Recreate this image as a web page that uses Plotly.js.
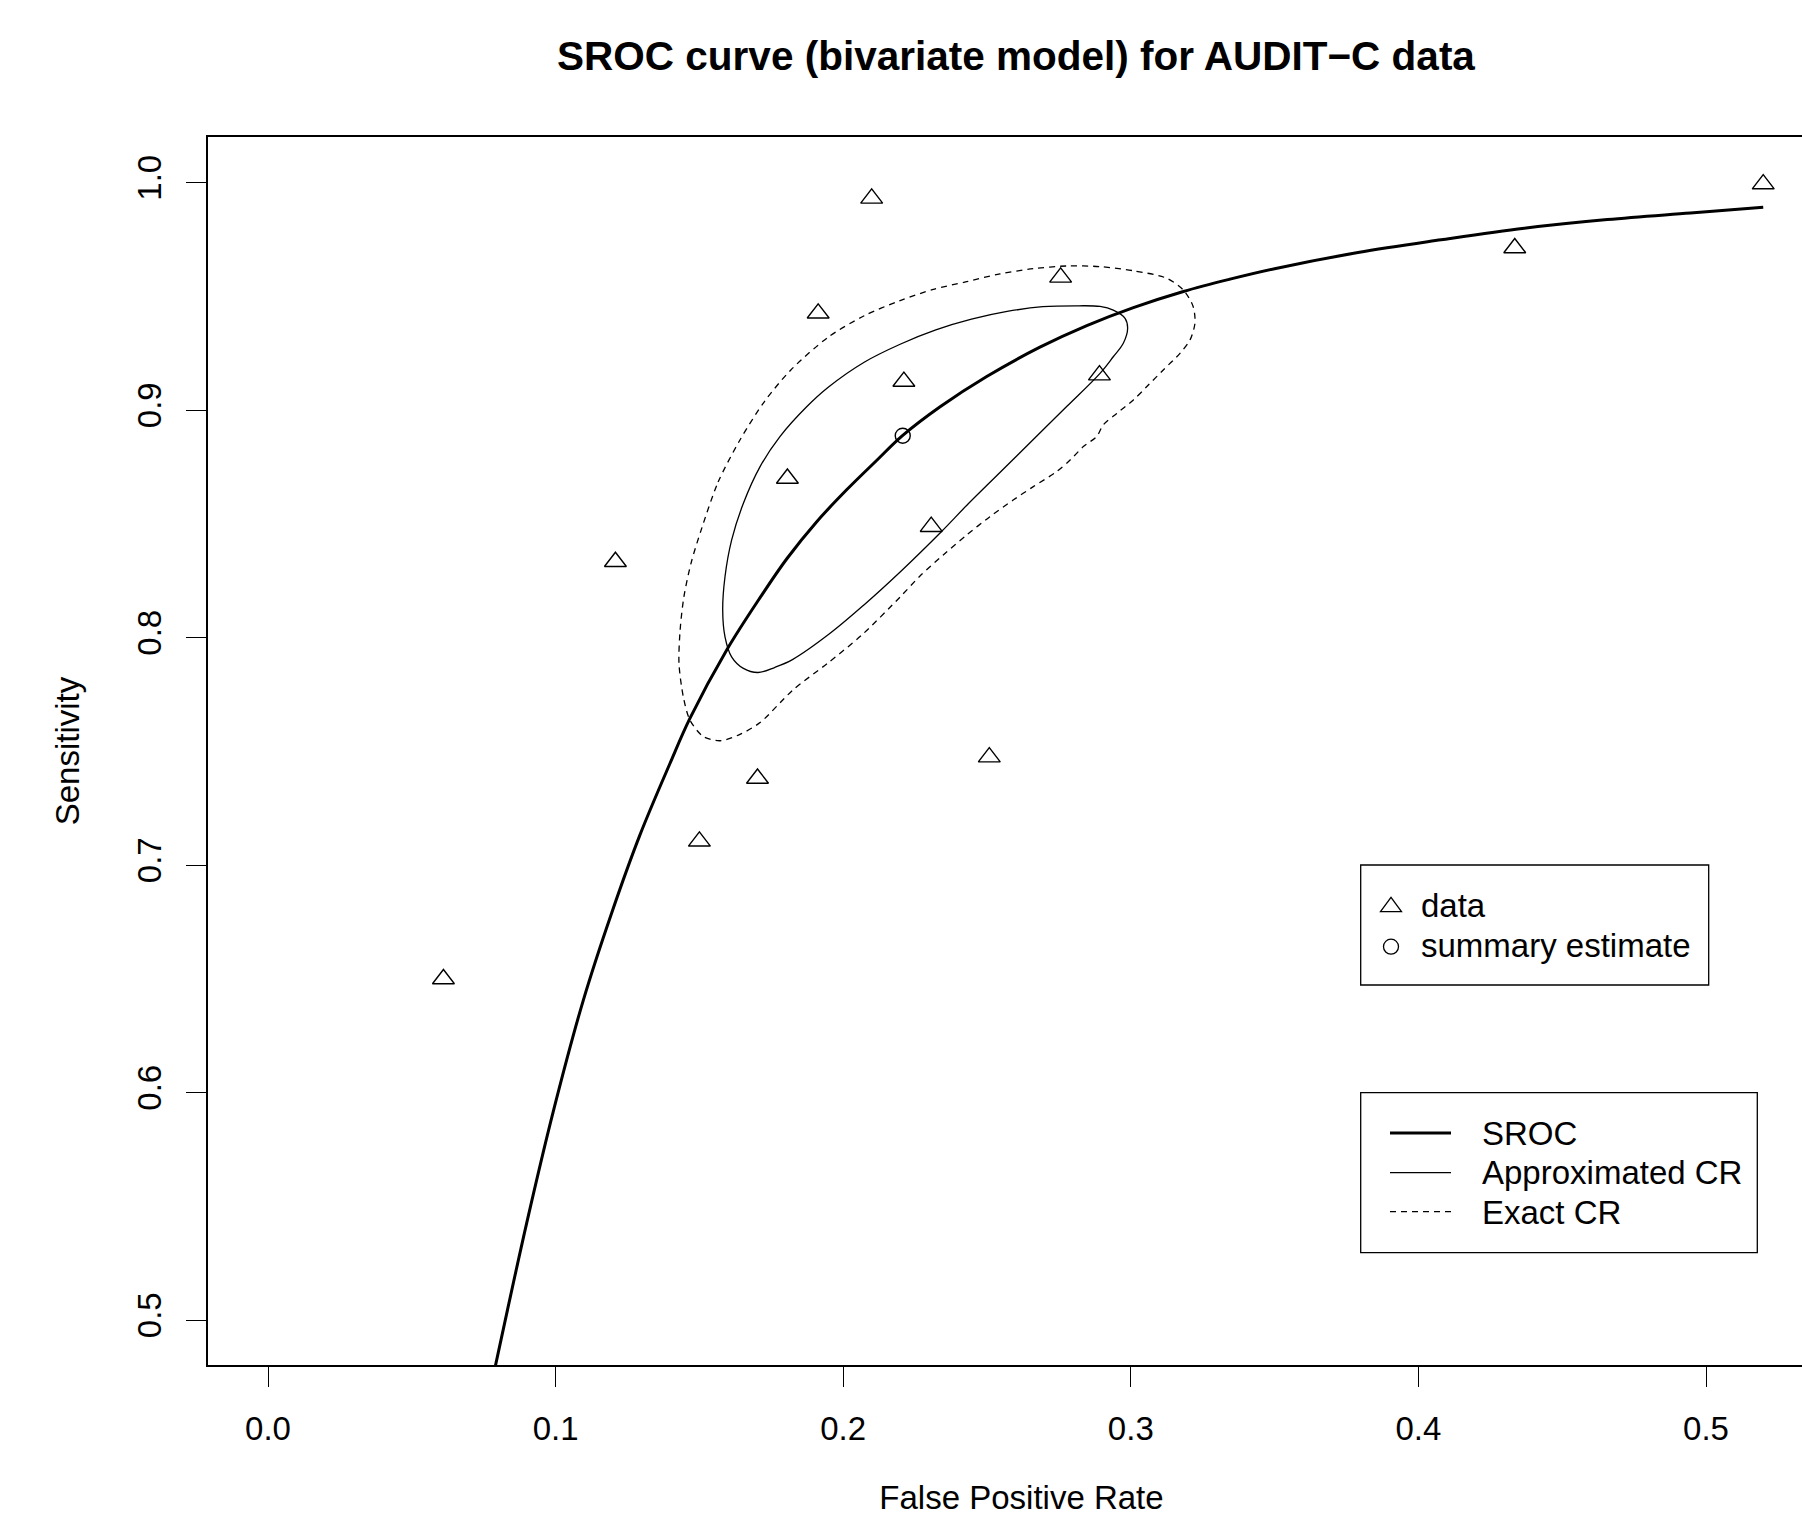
<!DOCTYPE html>
<html>
<head>
<meta charset="utf-8">
<script src="https://cdn.plot.ly/plotly-3.0.1.min.js"></script>
<style>
  html, body { margin: 0; padding: 0; background: #ffffff; }
  #wrap { width: 1802px; height: 1517px; overflow: hidden; position: relative; }
  #chart { width: 1850px; height: 1540px; }
</style>
</head>
<body>
<div id="wrap"><div id="chart"></div></div>
<script>
// ---------------- data ----------------
const xTicks = [0, 0.1, 0.2, 0.3, 0.4, 0.5];
const xTickLabels = ['0.0', '0.1', '0.2', '0.3', '0.4', '0.5'];
const yTicks = [0.5, 0.6, 0.7, 0.8, 0.9, 1.0];
const yTickLabels = ['0.5', '0.6', '0.7', '0.8', '0.9', '1.0'];

// individual studies (false positive rate, sensitivity)
const studyFpr  = [0.0610, 0.1208, 0.1500, 0.1702, 0.1806, 0.1913, 0.2099, 0.2211, 0.2306, 0.2508, 0.2756, 0.2891, 0.4335, 0.5199];
const studySens = [0.6500, 0.8334, 0.7105, 0.7381, 0.8700, 0.9426, 0.9931, 0.9126, 0.8488, 0.7475, 0.9584, 0.9154, 0.9713, 0.9994];

// summary estimate
const summaryFpr  = [0.2207];
const summarySens = [0.8888];

// SROC curve
const srocFpr  = [0.0790, 0.0900, 0.0992, 0.1096, 0.1195, 0.1293, 0.1398, 0.1467, 0.1595, 0.1711, 0.1804, 0.1908, 0.2012, 0.2117, 0.2206, 0.2337, 0.2499, 0.2684, 0.2847, 0.3009, 0.3183, 0.3345, 0.3500, 0.3790, 0.4079, 0.4368, 0.4657, 0.4946, 0.5199];
const srocSens = [0.4795, 0.5430, 0.5918, 0.6405, 0.6790, 0.7132, 0.7448, 0.7645, 0.7946, 0.8176, 0.8347, 0.8510, 0.8650, 0.8780, 0.8888, 0.9015, 0.9148, 0.9277, 0.9372, 0.9451, 0.9522, 0.9576, 0.9622, 0.9693, 0.9749, 0.9800, 0.9838, 0.9867, 0.9892];

// approximated confidence region
const approxFpr  = [0.2818, 0.2893, 0.2939, 0.2980, 0.2989, 0.2974, 0.2939, 0.2893, 0.2777, 0.2661, 0.2545, 0.2429, 0.2342, 0.2198, 0.2072, 0.1951, 0.1825, 0.1763, 0.1704, 0.1653, 0.1612, 0.1589, 0.1581, 0.1589, 0.1612, 0.1653, 0.1711, 0.1780, 0.1873, 0.1949, 0.2073, 0.2198, 0.2322, 0.2446, 0.2570, 0.2694, 0.2818];
const approxSens = [0.9459, 0.9456, 0.9440, 0.9404, 0.9360, 0.9294, 0.9235, 0.9162, 0.9016, 0.8871, 0.8726, 0.8581, 0.8467, 0.8289, 0.8144, 0.8016, 0.7905, 0.7870, 0.7847, 0.7865, 0.7916, 0.8004, 0.8122, 0.8268, 0.8429, 0.8591, 0.8752, 0.8884, 0.9015, 0.9102, 0.9211, 0.9290, 0.9353, 0.9400, 0.9434, 0.9455, 0.9459];

// exact confidence region
const exactFpr  = [0.1506, 0.1565, 0.1641, 0.1725, 0.1818, 0.1949, 0.2073, 0.2198, 0.2313, 0.2429, 0.2545, 0.2661, 0.2777, 0.2893, 0.3009, 0.3125, 0.3183, 0.3217, 0.3223, 0.3206, 0.3171, 0.3113, 0.3055, 0.3009, 0.2951, 0.2904, 0.2881, 0.2835, 0.2789, 0.2742, 0.2661, 0.2591, 0.2510, 0.2429, 0.2348, 0.2267, 0.2198, 0.2065, 0.1947, 0.1825, 0.1711, 0.1641, 0.1572, 0.1514, 0.1467, 0.1444, 0.1429, 0.1433, 0.1446, 0.1471, 0.1506];
const exactSens = [0.8473, 0.8684, 0.8869, 0.9036, 0.9177, 0.9322, 0.9415, 0.9482, 0.9531, 0.9565, 0.9599, 0.9622, 0.9634, 0.9631, 0.9613, 0.9580, 0.9528, 0.9455, 0.9382, 0.9309, 0.9250, 0.9177, 0.9103, 0.9045, 0.8986, 0.8935, 0.8884, 0.8840, 0.8781, 0.8730, 0.8664, 0.8605, 0.8532, 0.8451, 0.8364, 0.8271, 0.8179, 0.8012, 0.7889, 0.7770, 0.7627, 0.7575, 0.7547, 0.7565, 0.7638, 0.7741, 0.7887, 0.8034, 0.8179, 0.8328, 0.8473];

const legendLabels1 = ['data', 'summary estimate'];
const legendLabels2 = ['SROC', 'Approximated CR', 'Exact CR'];
const titleText = 'SROC curve (bivariate model) for AUDIT\u2212C data';
const xTitle = 'False Positive Rate';
const yTitle = 'Sensitivity';

// ---------------- layout helpers ----------------
const FONT = 'Liberation Sans, Arial, Helvetica, sans-serif';
const W = 1850, H = 1540;          // figure is larger than the 1802x1517 view; wrapper clips it
const PL = 208, PR = 1835, PT = 137, PB = 1365;
const fx = px => (px - PL) / (PR - PL);
const fy = py => (PB - py) / (PB - PT);

const traces = [
  { x: srocFpr, y: srocSens, type: 'scatter', mode: 'lines', name: legendLabels2[0],
    line: { color: '#000', width: 3, shape: 'spline', smoothing: 1 }, cliponaxis: true },
  { x: approxFpr, y: approxSens, type: 'scatter', mode: 'lines', name: legendLabels2[1],
    line: { color: '#000', width: 1.3, shape: 'spline', smoothing: 1 } },
  { x: exactFpr, y: exactSens, type: 'scatter', mode: 'lines', name: legendLabels2[2],
    line: { color: '#000', width: 1.3, dash: '6px,5px', shape: 'spline', smoothing: 0.8 } },
  { x: studyFpr, y: studySens, type: 'scatter', mode: 'markers', name: legendLabels1[0],
    marker: { symbol: 'triangle-up-open', size: 19, color: '#000', line: { width: 1.4, color: '#000' } } },
  { x: summaryFpr, y: summarySens, type: 'scatter', mode: 'markers', name: legendLabels1[1],
    marker: { symbol: 'circle-open', size: 15, color: '#000', line: { width: 1.4, color: '#000' } } }
];

const boxLine = { color: '#000', width: 1.3 };
const shapes = [
  { type: 'rect', xref: 'paper', yref: 'paper', x0: fx(1360.7), x1: fx(1708.7), y0: fy(985), y1: fy(865), line: boxLine, fillcolor: 'rgba(0,0,0,0)' },
  { type: 'rect', xref: 'paper', yref: 'paper', x0: fx(1360.7), x1: fx(1757.3), y0: fy(1252.7), y1: fy(1092.7), line: boxLine, fillcolor: 'rgba(0,0,0,0)' },
  { type: 'path', xref: 'paper', yref: 'paper', xsizemode: 'pixel', ysizemode: 'pixel',
    xanchor: fx(1391), yanchor: fy(906.7), path: 'M -10.5 -5 L 10.5 -5 L 0 9.4 Z', line: { color: '#000', width: 1.3 } },
  { type: 'circle', xref: 'paper', yref: 'paper', xsizemode: 'pixel', ysizemode: 'pixel',
    xanchor: fx(1391), yanchor: fy(946.7), x0: -7.5, x1: 7.5, y0: -7.5, y1: 7.5, line: { color: '#000', width: 1.3 } },
  { type: 'line', xref: 'paper', yref: 'paper', x0: fx(1390), x1: fx(1451), y0: fy(1133), y1: fy(1133), line: { color: '#000', width: 3 } },
  { type: 'line', xref: 'paper', yref: 'paper', x0: fx(1390), x1: fx(1451), y0: fy(1172.7), y1: fy(1172.7), line: { color: '#000', width: 1.3 } },
  { type: 'line', xref: 'paper', yref: 'paper', x0: fx(1390), x1: fx(1451), y0: fy(1211.7), y1: fy(1211.7), line: { color: '#000', width: 1.3, dash: '6px,5px' } }
];

const legFont = { family: FONT, size: 33, color: '#000' };
const annotations = [];
[905.5, 945.2].forEach((py, i) => annotations.push({
  xref: 'paper', yref: 'paper', x: fx(1419), y: fy(py), xanchor: 'left', yanchor: 'middle',
  text: legendLabels1[i], showarrow: false, font: legFont }));
[1133.5, 1172.8, 1212.8].forEach((py, i) => annotations.push({
  xref: 'paper', yref: 'paper', x: fx(1480), y: fy(py), xanchor: 'left', yanchor: 'middle',
  text: legendLabels2[i], showarrow: false, font: legFont }));

const axisCommon = {
  showgrid: false, zeroline: false, showline: true, mirror: true,
  linecolor: '#000', linewidth: 1.5,
  ticks: 'outside', ticklen: 20, tickwidth: 1.3, tickcolor: '#000',
  tickfont: { family: FONT, size: 33, color: '#000' },
  automargin: false, fixedrange: true
};

const layout = {
  width: W, height: H,
  margin: { l: PL, r: W - PR, t: PT, b: H - PB, pad: 0 },
  paper_bgcolor: '#fff', plot_bgcolor: '#fff',
  showlegend: false,
  font: { family: FONT, color: '#000' },
  title: { text: titleText, x: (1016 - PL) / (PR - PL), xref: 'paper', xanchor: 'center',
           y: 1 - 55.5 / H, yref: 'container', yanchor: 'middle',
           font: { family: FONT, size: 40.5, color: '#000', weight: 700 } },
  xaxis: Object.assign({}, axisCommon, {
    range: [(PL - 268) / 2876, (PR - 268) / 2876],
    tickvals: xTicks, ticktext: xTickLabels, ticklabelstandoff: 14,
    title: { text: xTitle, font: { family: FONT, size: 33, color: '#000' }, standoff: 40 }
  }),
  yaxis: Object.assign({}, axisCommon, {
    range: [1 - (PB - 182.7) / 2275, 1 - (PT - 182.7) / 2275],
    tickvals: yTicks, ticktext: yTickLabels, tickangle: -90, ticklabelstandoff: 12,
    title: { text: yTitle, font: { family: FONT, size: 33, color: '#000' }, standoff: 41.5 }
  }),
  shapes: shapes,
  annotations: annotations
};

Plotly.newPlot('chart', traces, layout, { displayModeBar: false, responsive: false });
</script>
</body>
</html>
